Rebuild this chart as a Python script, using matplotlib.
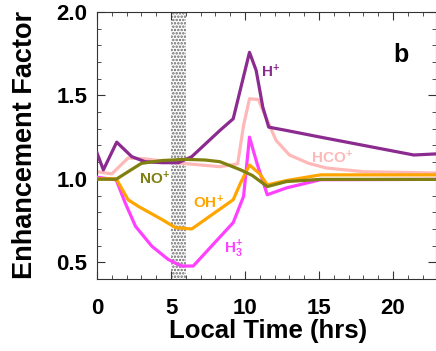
import numpy as np
import matplotlib.pyplot as plt
from matplotlib.ticker import MultipleLocator

plt.rcParams['font.family'] = ['Liberation Sans', 'DejaVu Sans']
plt.rcParams['font.weight'] = 'bold'
plt.rcParams['axes.labelweight'] = 'bold'
plt.rcParams['mathtext.fontset'] = 'custom'
plt.rcParams['mathtext.rm'] = 'Liberation Sans:bold'
plt.rcParams['mathtext.it'] = 'Liberation Sans:bold'
plt.rcParams['mathtext.bf'] = 'Liberation Sans:bold'
plt.rcParams['hatch.linewidth'] = 1.2

# H+
t_h = [0, 0.43, 1.33, 2.35, 3.25, 4.4, 5.5, 6.4, 8.3, 9.2, 10.3, 10.75, 11.2, 11.6, 12.8, 15.1, 21.4, 23]
v_h = [1.155, 1.054, 1.22, 1.133, 1.103, 1.097, 1.097, 1.133, 1.29, 1.36, 1.758, 1.65, 1.43, 1.31, 1.29, 1.25, 1.143, 1.15]

# HCO+
t_hco = [0, 1.0, 2.1, 3.25, 5.5, 8.3, 9.5, 9.9, 10.3, 10.9, 11.4, 12.1, 13.0, 14.3, 15.5, 18.0, 23]
v_hco = [1.043, 1.03, 1.125, 1.12, 1.095, 1.073, 1.09, 1.32, 1.48, 1.475, 1.37, 1.23, 1.143, 1.093, 1.065, 1.043, 1.035]

# NO+
t_no = [0, 1.3, 2.1, 3.0, 4.4, 6.0, 7.3, 8.3, 9.7, 10.5, 11.5, 12.8, 15.1, 23]
v_no = [0.998, 0.998, 1.043, 1.093, 1.11, 1.117, 1.113, 1.103, 1.054, 1.02, 0.954, 0.984, 0.997, 0.997]

# OH+
t_oh = [0, 1.3, 2.1, 2.8, 4.4, 5.3, 6.4, 9.2, 9.7, 10.3, 11.0, 11.5, 12.8, 15.1, 23]
v_oh = [1.0, 1.0, 0.875, 0.835, 0.756, 0.708, 0.70, 0.875, 0.976, 1.083, 1.03, 0.964, 0.99, 1.024, 1.024]

# H3+
t_h3 = [0, 1.3, 1.9, 2.6, 3.7, 4.8, 5.7, 6.5, 9.2, 9.9, 10.3, 10.8, 11.5, 12.8, 15.1, 23]
v_h3 = [1.01, 0.994, 0.857, 0.716, 0.597, 0.518, 0.478, 0.478, 0.738, 0.895, 1.25, 1.095, 0.905, 0.946, 0.995, 0.997]

c_h = '#8b2a8f'
c_hco = '#ffb8b8'
c_no = '#808010'
c_oh = '#ffa500'
c_h3 = '#ff40ff'

fig = plt.figure(figsize=(4.36, 3.51), dpi=100)
ax = fig.add_axes([0.2225, 0.205, 0.7775, 0.761])

ax.axvspan(5, 6, facecolor='white', edgecolor='#666666', hatch='.....', linewidth=0, zorder=1)

lw = 2.3
ax.plot(t_hco, v_hco, color=c_hco, lw=lw, zorder=2)
ax.plot(t_h, v_h, color=c_h, lw=lw, zorder=3)
ax.plot(t_h3, v_h3, color=c_h3, lw=lw, zorder=3)
ax.plot(t_oh, v_oh, color=c_oh, lw=lw, zorder=3)
ax.plot(t_no, v_no, color=c_no, lw=lw, zorder=4)

ax.text(11.7, 1.64, r'H$^{+}$', color=c_h, fontsize=11, ha='center', va='center')
ax.text(15.9, 1.125, r'HCO$^{+}$', color=c_hco, fontsize=11, ha='center', va='center')
ax.text(3.9, 1.0, r'NO$^{+}$', color=c_no, fontsize=11, ha='center', va='center')
ax.text(7.5, 0.86, r'OH$^{+}$', color=c_oh, fontsize=11, ha='center', va='center')
ax.text(9.2, 0.58, r'H$_3^{+}$', color=c_h3, fontsize=11, ha='center', va='center')
ax.text(20.5, 1.74, 'b', color='black', fontsize=18, ha='center', va='center')

ax.set_xlim(0, 22.9)
ax.set_ylim(0.4, 2.0)
ax.set_xticks([0, 5, 10, 15, 20])
ax.set_yticks([0.5, 1.0, 1.5, 2.0])
ax.xaxis.set_minor_locator(MultipleLocator(1))
ax.yaxis.set_minor_locator(MultipleLocator(0.1))
ax.tick_params(which='both', direction='in', top=True, right=True, labelsize=16, color='#333333')
ax.tick_params(which='major', length=6)
ax.tick_params(which='minor', length=3)
ax.tick_params(axis='x', which='major', pad=14)
ax.tick_params(axis='y', which='major', pad=7)
for s in ax.spines.values():
    s.set_color('#333333')
ax.set_xlabel('Local Time (hrs)', fontsize=18.5)
ax.set_ylabel('Enhancement Factor', fontsize=19.5)
ax.xaxis.set_label_coords(0.506, -0.15)
ax.yaxis.set_label_coords(-0.175, 0.502)

fig.savefig('out.png', dpi=100)
